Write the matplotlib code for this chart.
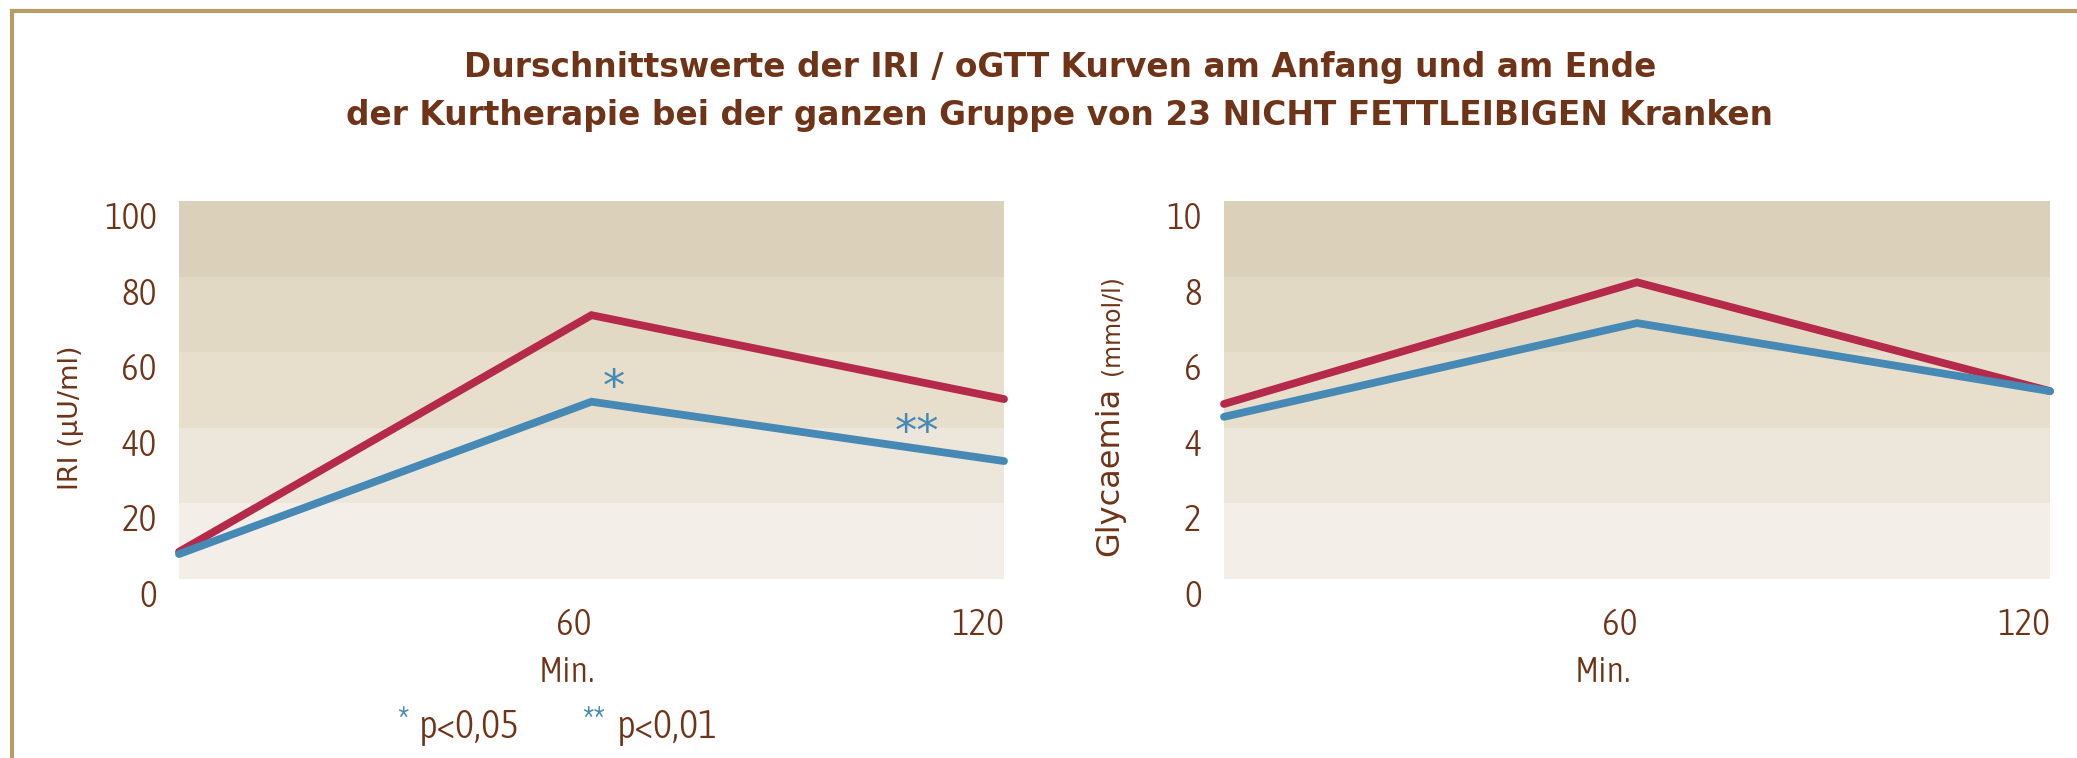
import matplotlib

matplotlib.use("Agg")
import matplotlib.pyplot as plt
from matplotlib import font_manager
from matplotlib.lines import Line2D

# data
minutes = [0, 60, 120]
iri_start = [7.2, 69.8, 47.6]
iri_end = [6.6, 46.9, 31.2]
gly_start = [4.63, 7.85, 4.97]
gly_end = [4.29, 6.77, 4.97]
iri_ticks = [0, 20, 40, 60, 80, 100]
gly_ticks = [0, 2, 4, 6, 8, 10]
x_ticks = [60, 120]
title_lines = [
    "Durschnittswerte der IRI / oGTT Kurven am Anfang und am Ende",
    "der Kurtherapie bei der ganzen Gruppe von 23 NICHT FETTLEIBIGEN Kranken",
]

BROWN = "#6f3418"
RED = "#b5294a"
BLUE = "#4689b5"
GOLD = "#b59d68"
BANDS = ["#f3efe8", "#ede7db", "#e7dfcc", "#e2d9c4", "#dbd1ba"]


def pick_narrow():
    # the reference uses a thin condensed face; take whatever is closest here
    fonts = font_manager.fontManager.ttflist
    stretch_ok = ("condensed", "semi-condensed", "extra-condensed", "narrow")
    found = [f for f in fonts
             if any(s in f.name.lower() for s in ("narrow", "condensed"))
             or str(f.stretch).lower() in stretch_ok]
    if not found:
        return None
    found.sort(key=lambda f: abs((f.weight if isinstance(f.weight, int) else 400) - 300))
    return found[0]


narrow = pick_narrow()
if narrow is not None:
    NARROW = dict(fname=narrow.fname)
else:
    NARROW = dict(family="Lato", weight="light")

W, H = 2077, 758
fig = plt.figure(figsize=(W / 100, H / 100), dpi=100, facecolor="white")


def px(x, y):
    """pixel position (from top-left) -> figure fraction"""
    return x / W, 1 - y / H


def narrow_font(size):
    return font_manager.FontProperties(size=size, **NARROW)


def setup_axis(ax, ticks, ymax):
    step = ticks[1] - ticks[0]
    for i, color in enumerate(BANDS):
        ax.axhspan(i * step, (i + 1) * step, color=color, lw=0, zorder=0)
    ax.set_xlim(0, 120)
    ax.set_ylim(0, ymax)
    ax.set_yticks(ticks)
    ax.set_xticks(x_ticks)
    ax.set_yticklabels([str(t) for t in ticks], fontproperties=narrow_font(27),
                       color=BROWN, va="top")
    ax.set_xticklabels([str(t) for t in x_ticks], fontproperties=narrow_font(27),
                       color=BROWN, ha="right")
    ax.tick_params(length=0)
    ax.tick_params(axis="y", pad=16)
    ax.tick_params(axis="x", pad=20)
    for spine in ax.spines.values():
        spine.set_visible(False)
    ax.set_facecolor("none")


def plot_lines(ax, start, end):
    ax.plot(minutes, start, color=RED, lw=5.6, solid_capstyle="round",
            solid_joinstyle="miter", clip_on=False, zorder=3)
    ax.plot(minutes, end, color=BLUE, lw=5.6, solid_capstyle="round",
            solid_joinstyle="miter", clip_on=False, zorder=4)


ax1 = fig.add_axes([179 / W, 179 / H, 825 / W, 378 / H])
setup_axis(ax1, iri_ticks, 100)
plot_lines(ax1, iri_start, iri_end)
ax1.text(63.3, 50.5, "*", color=BLUE, fontsize=32, ha="center", va="center")
ax1.text(107.3, 38.5, "**", color=BLUE, fontsize=32, ha="center", va="center")

ax2 = fig.add_axes([1224 / W, 179 / H, 826 / W, 378 / H])
setup_axis(ax2, gly_ticks, 10)
plot_lines(ax2, gly_start, gly_end)

# x labels
for x in (567, 1603):
    fig.text(*px(x, 672), "Min.", fontproperties=narrow_font(26), color=BROWN,
             ha="center", va="center")

# y labels (unit part set smaller, as in the reference)
fig.text(*px(78, 490), "IRI (μU/ml)", fontsize=19.5, color=BROWN,
         rotation=90, rotation_mode="anchor", ha="left", va="baseline")
main = fig.text(*px(1118, 556), "Glycaemia", fontsize=23, color=BROWN,
                rotation=90, rotation_mode="anchor", ha="left", va="baseline")
fig.canvas.draw()
top = main.get_window_extent().y1
fig.text(1118 / W, (top + 12) / H, "(mmol/l)", fontsize=17, color=BROWN,
         rotation=90, rotation_mode="anchor", ha="left", va="baseline")

# title
for y, line in zip([67, 116], title_lines):
    fig.text(*px(1060, y), line, fontsize=23.7, fontweight="bold", color=BROWN,
             ha="center", va="center")

# footnote
fig.text(*px(397, 723), "*", fontproperties=narrow_font(28), color=BLUE,
         ha="left", va="center")
fig.text(*px(418, 727), "p<0,05", fontproperties=narrow_font(29), color=BROWN,
         ha="left", va="center")
fig.text(*px(582, 723), "**", fontproperties=narrow_font(28), color=BLUE,
         ha="left", va="center")
fig.text(*px(616, 727), "p<0,01", fontproperties=narrow_font(29), color=BROWN,
         ha="left", va="center")

# frame (only top and left edges are visible)
fig.add_artist(Line2D([12 / W, 1], [1 - 11 / H] * 2, color=GOLD, lw=3))
fig.add_artist(Line2D([12 / W] * 2, [0, 1 - 11 / H], color=GOLD, lw=3))

fig.savefig("out.png", dpi=100, facecolor="white")
